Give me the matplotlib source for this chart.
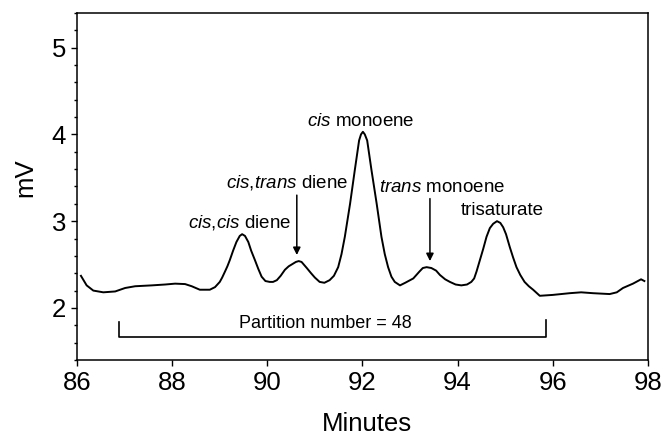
import matplotlib
matplotlib.use("Agg")
import matplotlib.pyplot as plt
from matplotlib.ticker import MultipleLocator

plt.rcParams["font.family"] = "Liberation Sans"
plt.rcParams["mathtext.fontset"] = "custom"
plt.rcParams["mathtext.rm"] = "Liberation Sans"
plt.rcParams["mathtext.it"] = "Liberation Sans:italic"

# chromatogram trace (minutes, mV)
minutes = [86.08, 86.20, 86.34, 86.55, 86.80, 87.01, 87.22, 87.57, 87.85, 88.06,
           88.27, 88.41, 88.58, 88.79, 88.90, 89.00, 89.05, 89.11, 89.16, 89.21,
           89.28, 89.35, 89.42, 89.47, 89.53, 89.60, 89.66, 89.74, 89.81, 89.88,
           89.96, 90.05, 90.12, 90.20, 90.28, 90.37, 90.45, 90.54, 90.60, 90.66,
           90.72, 90.83, 90.92, 91.00, 91.10, 91.20, 91.31, 91.40, 91.49, 91.56,
           91.63, 91.74, 91.84, 91.93, 91.97, 92.01, 92.05, 92.10, 92.19, 92.30,
           92.40, 92.47, 92.54, 92.61, 92.68, 92.79, 92.90, 93.07, 93.20, 93.27,
           93.35, 93.45, 93.55, 93.63, 93.74, 93.84, 93.96, 94.08, 94.20, 94.29,
           94.35, 94.40, 94.47, 94.54, 94.61, 94.68, 94.75, 94.83, 94.90, 94.96,
           95.02, 95.10, 95.17, 95.24, 95.32, 95.41, 95.50, 95.59, 95.73, 96.00,
           96.36, 96.60, 96.85, 97.20, 97.35, 97.48, 97.69, 97.86, 97.93]
mv = [2.37, 2.26, 2.20, 2.18, 2.19, 2.23, 2.25, 2.26, 2.27, 2.28,
      2.275, 2.25, 2.21, 2.21, 2.24, 2.30, 2.35, 2.42, 2.48, 2.55,
      2.66, 2.76, 2.83, 2.85, 2.83, 2.76, 2.66, 2.55, 2.45, 2.36,
      2.31, 2.30, 2.30, 2.32, 2.37, 2.44, 2.48, 2.51, 2.53, 2.54,
      2.53, 2.46, 2.40, 2.35, 2.30, 2.29, 2.32, 2.37, 2.47, 2.62,
      2.82, 3.20, 3.59, 3.93, 4.00, 4.03, 4.00, 3.93, 3.59, 3.20,
      2.82, 2.62, 2.47, 2.36, 2.30, 2.26, 2.29, 2.34, 2.42, 2.46,
      2.47, 2.46, 2.43, 2.38, 2.33, 2.30, 2.27, 2.26, 2.27, 2.30,
      2.34, 2.42, 2.55, 2.68, 2.82, 2.92, 2.97, 3.00, 2.98, 2.93,
      2.85, 2.70, 2.58, 2.47, 2.38, 2.30, 2.25, 2.21, 2.14, 2.15,
      2.17, 2.18, 2.17, 2.16, 2.18, 2.23, 2.28, 2.33, 2.31]

# peak labels: text, centre (min, mV)
labels = [r"$\mathit{cis{,}cis}$ diene", r"$\mathit{cis{,}trans}$ diene",
          r"$\mathit{cis}$ monoene", r"$\mathit{trans}$ monoene", "trisaturate"]
label_x = [89.42, 90.41, 91.97, 93.68, 94.94]
label_y = [2.98, 3.44, 4.15, 3.39, 3.12]

# arrows: x, tail y, tip y
arrow_x = [90.62, 93.42]
arrow_tail = [3.30, 3.26]
arrow_tip = [2.61, 2.54]

# partition bracket
bracket_x = [86.88, 86.88, 95.87, 95.87]
bracket_y = [1.84, 1.67, 1.67, 1.86]
bracket_text = "Partition number = 48"

fig = plt.figure(figsize=(6.65, 4.45), dpi=100)
ax = fig.add_axes([0.116, 0.191, 0.858, 0.78])

ax.plot(minutes, mv, color="black", lw=1.4)
ax.plot(bracket_x, bracket_y, color="black", lw=1.2)
ax.text(91.23, 1.82, bracket_text, ha="center", va="center", fontsize=13)

for t, x, y in zip(labels, label_x, label_y):
    ax.text(x, y, t, ha="center", va="center", fontsize=13.5)
for x, y0, y1 in zip(arrow_x, arrow_tail, arrow_tip):
    ax.annotate("", xy=(x, y1), xytext=(x, y0),
                arrowprops=dict(arrowstyle="-|>", color="black", lw=1.1,
                                mutation_scale=11, shrinkA=0, shrinkB=0))

ax.set_xlim(86, 98); ax.set_ylim(1.4, 5.4)
ax.xaxis.set_major_locator(MultipleLocator(2))
ax.yaxis.set_major_locator(MultipleLocator(1))
ax.yaxis.set_minor_locator(MultipleLocator(0.2))
ax.tick_params(axis="both", which="major", labelsize=18.5, length=4, width=1, pad=4)
ax.tick_params(axis="y", which="minor", length=2.5, width=1)
for s in ax.spines.values():
    s.set_linewidth(1.1)

ax.set_xlabel("Minutes", fontsize=18.5)
ax.set_ylabel("mV", fontsize=18.5)
ax.xaxis.set_label_coords(0.508, -0.15)
ax.yaxis.set_label_coords(-0.07, 0.526)

fig.savefig("out.png", dpi=100)
